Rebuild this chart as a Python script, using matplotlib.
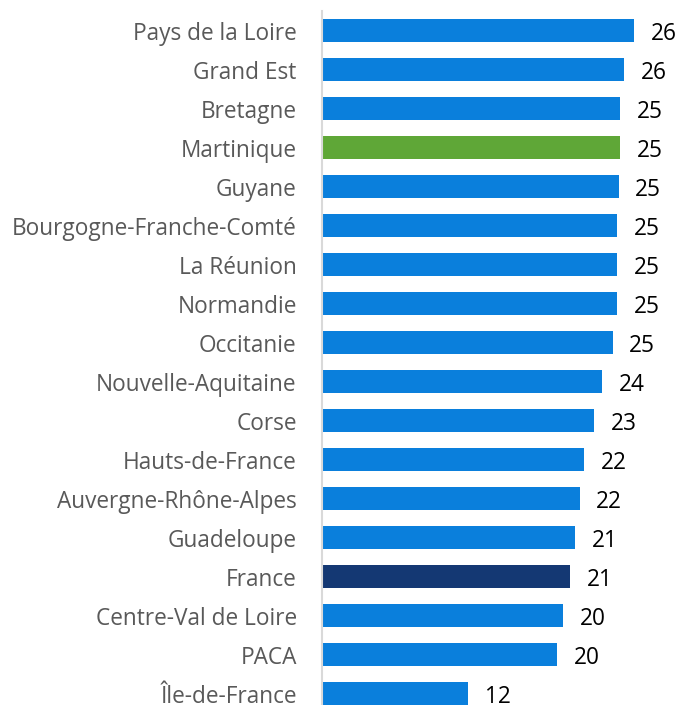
import matplotlib.pyplot as plt

plt.rcParams['font.family'] = ['Open Sans', 'DejaVu Sans']

regions = ["Pays de la Loire", "Grand Est", "Bretagne", "Martinique", "Guyane",
           "Bourgogne-Franche-Comté", "La Réunion", "Normandie", "Occitanie",
           "Nouvelle-Aquitaine", "Corse", "Hauts-de-France", "Auvergne-Rhône-Alpes",
           "Guadeloupe", "France", "Centre-Val de Loire", "PACA", "Île-de-France"]
values = [26.4, 25.55, 25.2, 25.2, 25.1, 25.0, 24.95, 24.95, 24.6,
          23.7, 23.0, 22.2, 21.8, 21.4, 21.0, 20.4, 19.9, 12.4]

blue = '#0A7FDC'
colors = [blue] * len(regions)
colors[regions.index("Martinique")] = '#5FA737'
colors[regions.index("France")] = '#143873'

fig = plt.figure(figsize=(6.79, 7.05), dpi=100)
ax = fig.add_axes([321.7 / 679, 0, 1 - 321.7 / 679, 694 / 705])

pos = range(len(regions))
ax.barh(pos, values, height=0.58, color=colors)

for p, v in zip(pos, values):
    ax.text(v + 1.4, p + 0.08, "%d" % int(v + 0.5), va='center', ha='left',
            fontsize=16.3, color='black')

ax.set_ylim(17.29, -0.5)
ax.set_xlim(0, 30.2)
ax.set_yticks(list(pos))
ax.set_yticklabels(regions, fontsize=16.3, color='#595959')
ax.tick_params(axis='y', length=0, pad=18)
ax.set_xticks([])
for s in ['top', 'right', 'bottom']:
    ax.spines[s].set_visible(False)
ax.spines['left'].set_color('#D9D9D9')
ax.spines['left'].set_linewidth(1.5)

fig.savefig('out.png', dpi=100)
